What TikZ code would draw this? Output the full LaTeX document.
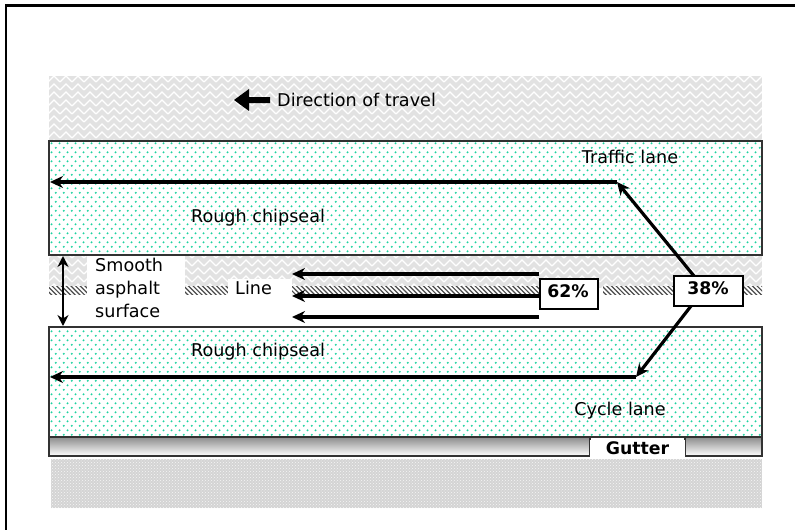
\documentclass[tikz,border=0pt]{standalone}
\usepackage{fontspec}
\setmainfont{DejaVu Sans}
\usetikzlibrary{patterns,arrows.meta}
\definecolor{dotcol}{RGB}{30,210,160}
\definecolor{herbg}{RGB}{226,226,226}
\definecolor{chkbg}{RGB}{212,212,212}
\definecolor{edge}{RGB}{50,50,50}
\pgfdeclarepatternformonly{lanedots}{\pgfqpoint{0pt}{0pt}}{\pgfqpoint{7.7pt}{9.4pt}}{\pgfqpoint{7.7pt}{9.4pt}}{%
  \pgfpathcircle{\pgfqpoint{1.9pt}{2.35pt}}{1.15pt}%
  \pgfpathcircle{\pgfqpoint{5.75pt}{7.05pt}}{1.15pt}%
  \pgfusepath{fill}}
\pgfdeclarepatternformonly{herring}{\pgfqpoint{-1pt}{-1pt}}{\pgfqpoint{13pt}{9pt}}{\pgfqpoint{12pt}{8pt}}{%
  \pgfsetlinewidth{1.3pt}%
  \pgfpathmoveto{\pgfqpoint{0pt}{0pt}}\pgfpathlineto{\pgfqpoint{6pt}{6pt}}\pgfpathlineto{\pgfqpoint{12pt}{0pt}}%
  \pgfusepath{stroke}}
\pgfdeclarepatternformonly{hatchline}{\pgfqpoint{-1pt}{-1pt}}{\pgfqpoint{5.7pt}{5.7pt}}{\pgfqpoint{4.7pt}{4.7pt}}{%
  \pgfsetlinewidth{1.2pt}%
  \pgfpathmoveto{\pgfqpoint{0pt}{4.7pt}}\pgfpathlineto{\pgfqpoint{4.8pt}{-0.1pt}}%
  \pgfusepath{stroke}}
\tikzset{
  txt/.style={font=\fontsize{17.6}{23}\selectfont, inner sep=0pt},
  btxt/.style={font=\fontsize{17.3}{23}\selectfont\bfseries, inner sep=0pt},
  lane/.style={draw=edge, line width=1.2pt, preaction={fill=white}, pattern=lanedots, pattern color=dotcol},
  herr/.style={preaction={fill=herbg}, pattern=herring, pattern color=white},
  hatch/.style={preaction={fill=white}, pattern=hatchline, pattern color=black!70},
  chk/.style={preaction={fill=chkbg}, pattern=crosshatch dots, pattern color=white!96!black},
  gut/.style={draw=edge, line width=1.1pt, top color=black!45, bottom color=white},
  arr/.style={line width=3.2pt, -{Stealth[length=13pt,width=12pt]}},
  arrboth/.style={line width=2.6pt, {Stealth[length=11pt,width=11pt]}-{Stealth[length=11pt,width=11pt]}},
  pbox/.style={draw=black, line width=1.4pt, fill=white, btxt, minimum width=#1, minimum height=30pt},
}
\begin{document}
\begin{tikzpicture}[x=1pt,y=-1pt]
\useasboundingbox (0,0) rectangle (795,530);
% frame
\draw[line width=2.2pt] (6,530) -- (6,5.5) -- (795,5.5);
% road surface background
\fill[herr] (49,76) rectangle (762,288);
% centre line segments
\fill[hatch] (49,286) rectangle (87,294);
\fill[hatch] (185,286) rectangle (228,294);
\fill[hatch] (292,286) rectangle (540,294);
\fill[hatch] (603,286) rectangle (674,294);
\fill[hatch] (743,286) rectangle (762,294);
% white boxes for labels
\fill[white] (87,255) rectangle (185,327);
\fill[white] (228,279) rectangle (292,297);
% lanes
\draw[lane] (49,141) rectangle (762,255);
\draw[lane] (49,327) rectangle (762,437);
% gutter
\draw[gut] (49,437) rectangle (590,456);
\draw[gut] (685,437) rectangle (762,456);
\node[btxt, fill=white, minimum width=95pt, minimum height=17pt] (gutter) at (637.5,448) {Gutter};
% verge
\fill[chk] (51,459) rectangle (762,508);
% direction of travel
\fill (234,100) -- (249,89) -- (249,97) -- (270,97) -- (270,103) -- (249,103) -- (249,111) -- cycle;
\node[txt, anchor=west] (dir) at (277,100) {Direction of travel};
% labels
\node[txt] (traffic) at (630,157) {Traffic lane};
\node[txt] (rough1) at (258,218) {Rough chipseal};
\node[txt] (rough2) at (258,352) {Rough chipseal};
\node[txt] (cycle) at (620,411) {Cycle lane};
\node[txt, anchor=west, align=left] (smooth) at (95,288) {Smooth\\asphalt\\surface};
\node[txt, anchor=west] (line) at (235,288) {Line};
% percentage boxes
\node[pbox=58pt] (b62) at (569,294) {};
\node[btxt] (t62) at (568,291) {62\%};
\node[pbox=69pt] (b38) at (708.5,291) {};
\node[btxt] (t38) at (708,288) {38\%};
% arrows
\coordinate (tc) at (617,182);
\coordinate (tl) at (50,182);
\coordinate (bc) at (636,377);
\coordinate (bl) at (50,377);
\coordinate (d1) at (694,276);
\coordinate (d2) at (691,306);
\draw[arr] (d1) -- (tc);
\draw[arr] (tc) -- (tl);
\draw[arr] (d2) -- (bc);
\draw[arr] (bc) -- (bl);
\coordinate (m1) at (292,274);
\coordinate (m2) at (292,296);
\coordinate (m3) at (292,317);
\draw[arr] (b62.west |- m1) -- (m1);
\draw[arr] (b62.west |- m2) -- (m2);
\draw[arr] (b62.west |- m3) -- (m3);
\coordinate (va) at (63,256);
\coordinate (vb) at (63,326);
\draw[arrboth] (va) -- (vb);
\end{tikzpicture}
\end{document}
